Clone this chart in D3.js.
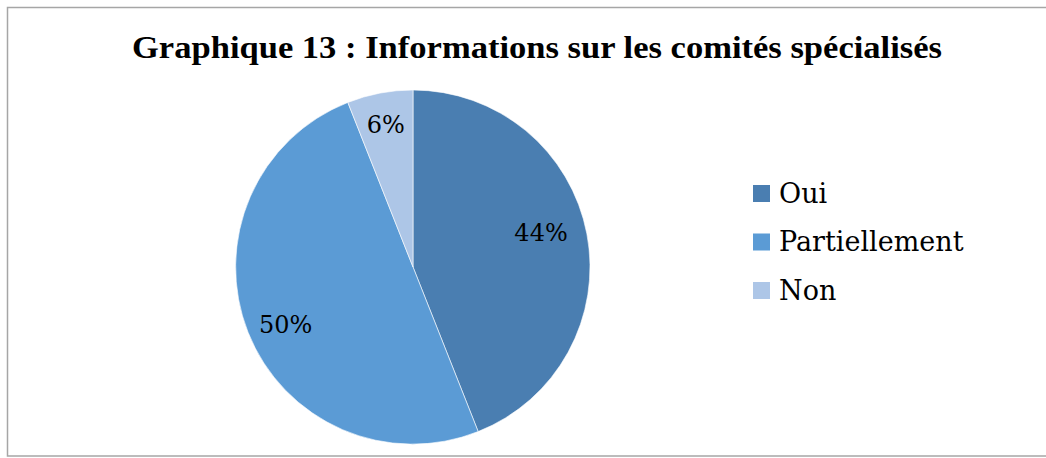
<!DOCTYPE html>
<head>
<meta charset="utf-8">
<script src="https://cdn.jsdelivr.net/npm/d3@7"></script>
<style>
body { margin: 0; background: #fff; }
svg text { font-family: "DejaVu Serif", "Liberation Serif", serif; fill: #000; }
</style>
</head>
<body>
<script>

// donnees du graphique
var categories = ["Oui", "Partiellement", "Non"];
var values = [44, 50, 6];
var colors = ["#4a7eb1", "#5b9bd5", "#adc6e7"];
var title = "Graphique 13 : Informations sur les comités spécialisés";

var width = 1046, height = 458;

var svg = d3.select("body").append("svg")
    .attr("width", width)
    .attr("height", height);

// cadre
svg.append("rect")
    .attr("x", 7.5).attr("y", 7.5)
    .attr("width", 1060).attr("height", 448.5)
    .attr("fill", "none")
    .attr("stroke", "#a6a6a6")
    .attr("stroke-width", 1.5);

svg.append("text")
    .attr("x", 537).attr("y", 58)
    .attr("text-anchor", "middle")
    .style("font-family", "'Liberation Serif', serif")
    .style("font-weight", "bold")
    .style("font-size", "31px")
    .attr("textLength", 810)
    .attr("lengthAdjust", "spacingAndGlyphs")
    .text(title);

var cx = 413, cy = 267, r = 177;

var pie = d3.pie().sort(null).value(function (d) { return d; });
var arc = d3.arc().innerRadius(0).outerRadius(r);

// position des etiquettes (fraction du rayon, decalage d'angle)
var labelRadius = [0.75, 0.79, 0.82];
var labelTurn = [-4.5, -2.7, 0];

var g = svg.append("g").attr("transform", "translate(" + cx + "," + cy + ")");

var slices = pie(values);

g.selectAll("path")
    .data(slices)
    .enter().append("path")
    .attr("d", arc)
    .attr("fill", function (d, i) { return colors[i]; })
    .attr("stroke", "#fff")
    .attr("stroke-width", 0.6);

g.selectAll("text")
    .data(slices)
    .enter().append("text")
    .attr("transform", function (d, i) {
        var a = (d.startAngle + d.endAngle) / 2 + labelTurn[i] * Math.PI / 180;
        var rr = r * labelRadius[i];
        return "translate(" + (Math.sin(a) * rr) + "," + (-Math.cos(a) * rr) + ")";
    })
    .attr("text-anchor", "middle")
    .attr("dy", "0.36em")
    .style("font-size", "24px")
    .text(function (d) { return d.data + "%"; });

// legende
var legend = svg.append("g").attr("transform", "translate(753,193)");
var item = legend.selectAll("g")
    .data(categories)
    .enter().append("g")
    .attr("transform", function (d, i) { return "translate(0," + (i * 48.5) + ")"; });

item.append("rect")
    .attr("x", 0).attr("y", -8)
    .attr("width", 17).attr("height", 17)
    .attr("fill", function (d, i) { return colors[i]; });

item.append("text")
    .attr("x", 26)
    .attr("dy", "0.36em")
    .style("font-size", "27px")
    .text(function (d) { return d; });

</script>
</body>
</html>
